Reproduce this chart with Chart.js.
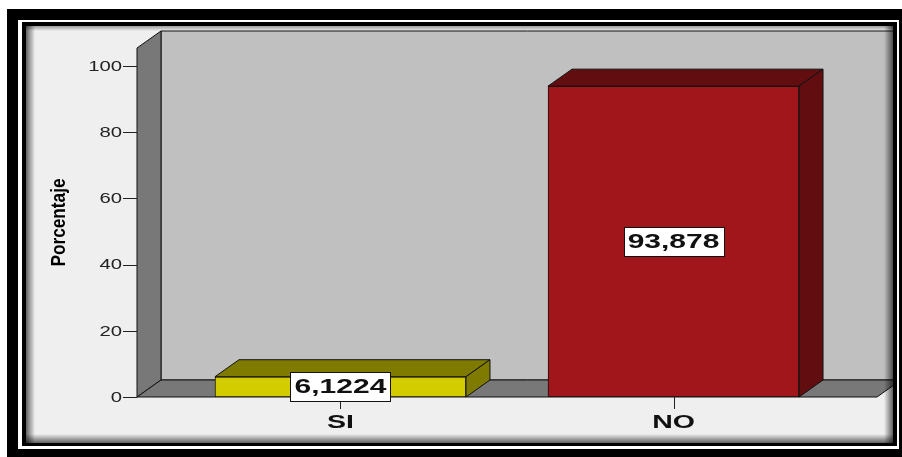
<!DOCTYPE html>
<html>
<head>
<meta charset="utf-8">
<script src="https://cdn.jsdelivr.net/npm/chart.js@4.4.1/dist/chart.umd.min.js"></script>
<style>
  html, body { margin: 0; padding: 0; background: #fff; }
  #wrap { width: 902px; height: 457px; }
</style>
</head>
<body>
<div id="wrap"><canvas id="chart" width="902" height="457"></canvas></div>
<script>
// Data
var categories = ['SI', 'NO'];
var percentages = [6.1224, 93.878];
var valueLabels = ['6,1224', '93,878'];
var yTicks = [0, 20, 40, 60, 80, 100];
var yTitle = 'Porcentaje';

// Styling
var frontColors = ['#d2cc00', '#a0161a'];
var shadeColors = ['#7f7b00', '#620e10'];
var DX = 24, DY = -17; // depth of the fake 3D
var FONT = '"Liberation Sans", Arial, sans-serif';

function stretchedText(ctx, text, x, y, sx, font, align) {
  ctx.save();
  ctx.translate(x, y);
  ctx.scale(sx, 1);
  ctx.font = font;
  ctx.textAlign = align;
  ctx.textBaseline = 'middle';
  ctx.fillText(text, 0, 0);
  ctx.restore();
}

function poly(ctx, pts, fill) {
  ctx.beginPath();
  ctx.moveTo(pts[0][0], pts[0][1]);
  for (var i = 1; i < pts.length; i++) ctx.lineTo(pts[i][0], pts[i][1]);
  ctx.closePath();
  ctx.fillStyle = fill;
  ctx.fill();
  ctx.strokeStyle = '#111';
  ctx.lineWidth = 1;
  ctx.stroke();
}

var depthPlugin = {
  id: 'depth3d',
  beforeDraw: function(chart) {
    var ctx = chart.ctx;
    ctx.save();
    // frames
    ctx.fillStyle = '#fff';
    ctx.fillRect(0, 0, 902, 457);
    ctx.fillStyle = '#000';
    ctx.fillRect(7, 9, 895, 448);
    ctx.fillStyle = '#fff';
    ctx.fillRect(18, 20, 881, 429);
    ctx.fillStyle = '#000';
    ctx.fillRect(22, 22, 875, 424);
    ctx.fillStyle = '#efefef';
    ctx.fillRect(26, 26, 867, 417);
    ctx.restore();
  },
  beforeDatasetsDraw: function(chart) {
    var ctx = chart.ctx, a = chart.chartArea;
    var L = a.left, R = a.right, T = a.top, B = a.bottom;
    ctx.save();
    ctx.beginPath();
    ctx.rect(26, 26, 867, 417);
    ctx.clip();
    // back wall
    poly(ctx, [[L + DX, T + DY], [R + 2 * DX, T + DY], [R + 2 * DX, B + DY], [L + DX, B + DY]], '#c0c0c0');
    // left wall
    poly(ctx, [[L, T], [L + DX, T + DY], [L + DX, B + DY], [L, B]], '#787878');
    // floor
    poly(ctx, [[L, B], [L + DX, B + DY], [R + DX, B + DY], [R, B]], '#787878');
    ctx.restore();

    // axis ticks
    ctx.save();
    ctx.strokeStyle = '#222';
    ctx.lineWidth = 1;
    var ys = chart.scales.y, xs = chart.scales.x;
    yTicks.forEach(function(v) {
      var py = Math.round(ys.getPixelForValue(v)) + 0.5;
      ctx.beginPath();
      ctx.moveTo(L - 14, py);
      ctx.lineTo(L, py);
      ctx.stroke();
    });
    categories.forEach(function(c, i) {
      var px = Math.round(xs.getPixelForValue(i)) + 0.5;
      ctx.beginPath();
      ctx.moveTo(px, B);
      ctx.lineTo(px, B + 12);
      ctx.stroke();
    });
    ctx.restore();
  },
  afterDatasetsDraw: function(chart) {
    var ctx = chart.ctx, a = chart.chartArea;
    var meta = chart.getDatasetMeta(0);
    ctx.save();
    meta.data.forEach(function(bar, i) {
      var p = bar.getProps(['x', 'y', 'base', 'width'], true);
      var x0 = p.x - p.width / 2, x1 = p.x + p.width / 2;
      // top face
      poly(ctx, [[x0, p.y], [x0 + DX, p.y + DY], [x1 + DX, p.y + DY], [x1, p.y]], shadeColors[i]);
      // side face
      poly(ctx, [[x1, p.y], [x1 + DX, p.y + DY], [x1 + DX, p.base + DY], [x1, p.base]], shadeColors[i]);
    });
    // value boxes
    meta.data.forEach(function(bar, i) {
      var p = bar.getProps(['x', 'y', 'base'], true);
      var cy = (p.y + p.base) / 2;
      ctx.fillStyle = '#fff';
      ctx.fillRect(Math.round(p.x - 50) + 0.5, Math.round(cy - 15) + 0.5, 100, 29);
      ctx.strokeStyle = '#111';
      ctx.lineWidth = 1;
      ctx.strokeRect(Math.round(p.x - 50) + 0.5, Math.round(cy - 15) + 0.5, 100, 29);
      ctx.fillStyle = '#111';
      stretchedText(ctx, valueLabels[i], p.x, cy + 1, 1.5, 'bold 20px ' + FONT, 'center');
    });
    // tick labels
    var ys = chart.scales.y, xs = chart.scales.x;
    ctx.fillStyle = '#222';
    yTicks.forEach(function(v) {
      stretchedText(ctx, String(v), a.left - 15, ys.getPixelForValue(v) + 1, 1.45, '14px ' + FONT, 'right');
    });
    ctx.fillStyle = '#111';
    categories.forEach(function(c, i) {
      stretchedText(ctx, c, xs.getPixelForValue(i), 423, 1.5, 'bold 19px ' + FONT, 'center');
    });
    // axis title
    ctx.save();
    ctx.translate(59, (a.top + a.bottom) / 2);
    ctx.rotate(-Math.PI / 2);
    ctx.scale(0.82, 1);
    ctx.font = 'bold 21px ' + FONT;
    ctx.textAlign = 'center';
    ctx.textBaseline = 'middle';
    ctx.fillStyle = '#000';
    ctx.fillText(yTitle, 0, 0);
    ctx.restore();
    ctx.restore();
  },
  afterDraw: function(chart) {
    var ctx = chart.ctx;
    ctx.save();
    var g;
    g = ctx.createLinearGradient(26, 0, 35, 0);
    g.addColorStop(0, 'rgba(0,0,0,0.6)'); g.addColorStop(1, 'rgba(0,0,0,0)');
    ctx.fillStyle = g; ctx.fillRect(26, 26, 9, 417);
    g = ctx.createLinearGradient(893, 0, 884, 0);
    g.addColorStop(0, 'rgba(0,0,0,0.6)'); g.addColorStop(1, 'rgba(0,0,0,0)');
    ctx.fillStyle = g; ctx.fillRect(884, 26, 9, 417);
    g = ctx.createLinearGradient(0, 443, 0, 434);
    g.addColorStop(0, 'rgba(0,0,0,0.6)'); g.addColorStop(1, 'rgba(0,0,0,0)');
    ctx.fillStyle = g; ctx.fillRect(26, 434, 867, 9);
    g = ctx.createLinearGradient(0, 26, 0, 31);
    g.addColorStop(0, 'rgba(0,0,0,0.35)'); g.addColorStop(1, 'rgba(0,0,0,0)');
    ctx.fillStyle = g; ctx.fillRect(26, 26, 867, 5);
    ctx.restore();
  }
};

var ctx = document.getElementById('chart').getContext('2d');
new Chart(ctx, {
  type: 'bar',
  data: {
    datasets: [{
      data: categories.map(function(c, i) { return { x: i, y: percentages[i] }; }),
      backgroundColor: frontColors,
      borderColor: '#111',
      borderWidth: 1,
      borderSkipped: false,
      barThickness: 251
    }]
  },
  options: {
    responsive: false,
    animation: false,
    layout: { padding: { left: 137, top: 48, right: 25, bottom: 60 } },
    plugins: { legend: { display: false }, tooltip: { enabled: false } },
    scales: {
      x: {
        type: 'linear', min: -0.611, max: 1.611, display: false, offset: false,
        grid: { offset: false },
        afterBuildTicks: function(s) { s.ticks = categories.map(function(c, i) { return { value: i }; }); }
      },
      y: {
        min: 0, max: 105.4, display: false,
        afterBuildTicks: function(s) { s.ticks = yTicks.map(function(v) { return { value: v }; }); }
      }
    }
  },
  plugins: [depthPlugin]
});
</script>
</body>
</html>
